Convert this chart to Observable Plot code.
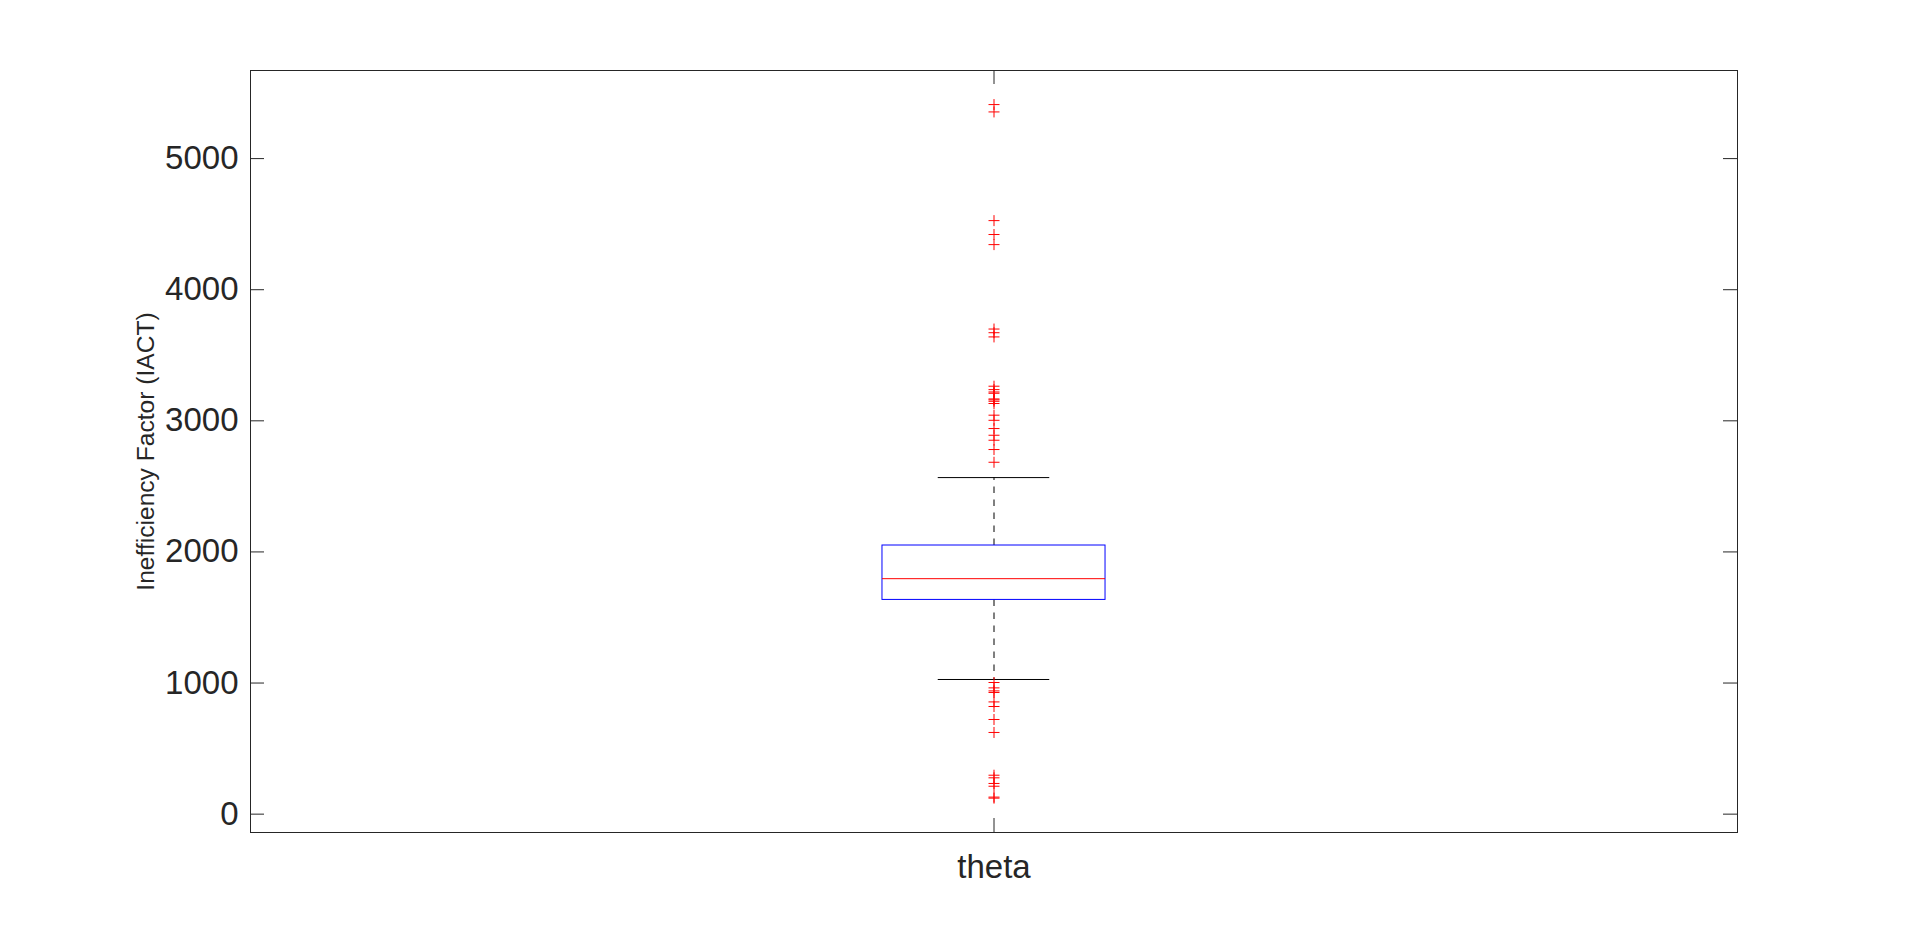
<!DOCTYPE html>
<html>
<head>
<meta charset="utf-8">
<script src="https://cdn.jsdelivr.net/npm/d3@7"></script>
<script src="https://cdn.jsdelivr.net/npm/@observablehq/plot@0.6"></script>
<style>
  html, body { margin: 0; padding: 0; background: #fff; overflow: hidden; }
</style>
</head>
<body>
<div id="chart"></div>
<script>
// ---- data ----
const category = "theta";
const q1 = 1634;
const median = 1796;
const q3 = 2049;
const whiskerLow = 1027;
const whiskerHigh = 2567;
const outliersHigh = [5412, 5356, 4527, 4421, 4344, 3700, 3672, 3640, 3264, 3238, 3220, 3210,
  3167, 3160, 3149, 3132, 3043, 3004, 2941, 2890, 2852, 2781, 2684];
const outliersLow = [1004, 963, 940, 928, 856, 821, 722, 623, 297, 277, 234, 213, 130, 122];
const yTicks = [0, 1000, 2000, 3000, 4000, 5000];
const yLabel = "Inefficiency Factor (IACT)";

// ---- layout ----
const W = 1920, H = 936;
const mL = 250, mR = 183, mT = 70, mB = 104;
const plotW = W - mL - mR, plotH = H - mT - mB;
const tickLen = 14;
const pos = 1;            // category position
const boxHalf = 0.075;     // half box width (x units)
const capHalf = 0.0375;    // half whisker cap width
const ink = "#262626";

const outliers = outliersHigh.concat(outliersLow).map(v => ({x: pos, y: v}));

const plusSymbol = {
  draw(context, size) {
    const r = Math.sqrt(size / Math.PI);
    context.moveTo(-r, 0); context.lineTo(r, 0);
    context.moveTo(0, -r); context.lineTo(0, r);
  }
};

const chart = Plot.plot({
  width: W,
  height: H,
  marginLeft: mL, marginRight: mR, marginTop: mT, marginBottom: mB,
  style: {fontFamily: "'Liberation Sans', Arial, sans-serif", fontSize: "33px", color: ink, background: "#fff"},
  x: {type: "linear", domain: [0.5, 1.5], axis: null},
  y: {domain: [-140, 5672], axis: null},
  marks: [
    // whiskers (dashed)
    Plot.ruleX([pos], {x: d => d, y1: q3, y2: whiskerHigh, stroke: "#7f7f7f", strokeWidth: 2, strokeDasharray: "6.5,6.5"}),
    Plot.ruleX([pos], {x: d => d, y1: q1, y2: whiskerLow, stroke: "#7f7f7f", strokeWidth: 2, strokeDasharray: "6.5,6.5"}),
    // whisker caps
    Plot.ruleY([whiskerHigh, whiskerLow], {y: d => d, x1: pos - capHalf, x2: pos + capHalf, stroke: "#000", strokeWidth: 1}),
    // box
    Plot.rect([{q1, q3}], {x1: pos - boxHalf, x2: pos + boxHalf, y1: "q1", y2: "q3", fill: "none", stroke: "#0000ff", strokeWidth: 1}),
    // median
    Plot.ruleY([median], {y: d => d, x1: pos - boxHalf, x2: pos + boxHalf, stroke: "#ff0000", strokeWidth: 1}),
    // outliers
    Plot.dot(outliers, {x: "x", y: "y", symbol: plusSymbol, r: 5.5, stroke: "#ff0000", fill: "none", strokeWidth: 1}),
    // frame
    Plot.frame({stroke: ink, strokeWidth: 1}),
    // inward ticks on left and right
    Plot.tickY(yTicks, {y: d => d, insetRight: plotW - tickLen, stroke: ink}),
    Plot.tickY(yTicks, {y: d => d, insetLeft: plotW - tickLen, stroke: ink}),
    // inward x ticks bottom and top
    Plot.tickX([pos], {x: d => d, insetTop: plotH - tickLen, stroke: ink}),
    Plot.tickX([pos], {x: d => d, insetBottom: plotH - tickLen, stroke: ink}),
    // tick labels
    Plot.axisY(yTicks, {anchor: "left", tickSize: 0, tickPadding: 12, tickFormat: d3.format("d"), label: null, fontSize: 33, fill: ink}),
    Plot.axisX([pos], {anchor: "bottom", tickSize: 0, tickPadding: 22, tickFormat: () => category, label: null, fontSize: 33, fill: ink}),
    // y label
    Plot.text([yLabel], {text: d => d, frameAnchor: "left", textAnchor: "middle", rotate: -90, dx: -104, fontSize: 24.6, fill: ink})
  ]
});

document.getElementById("chart").appendChild(chart);
</script>
</body>
</html>
